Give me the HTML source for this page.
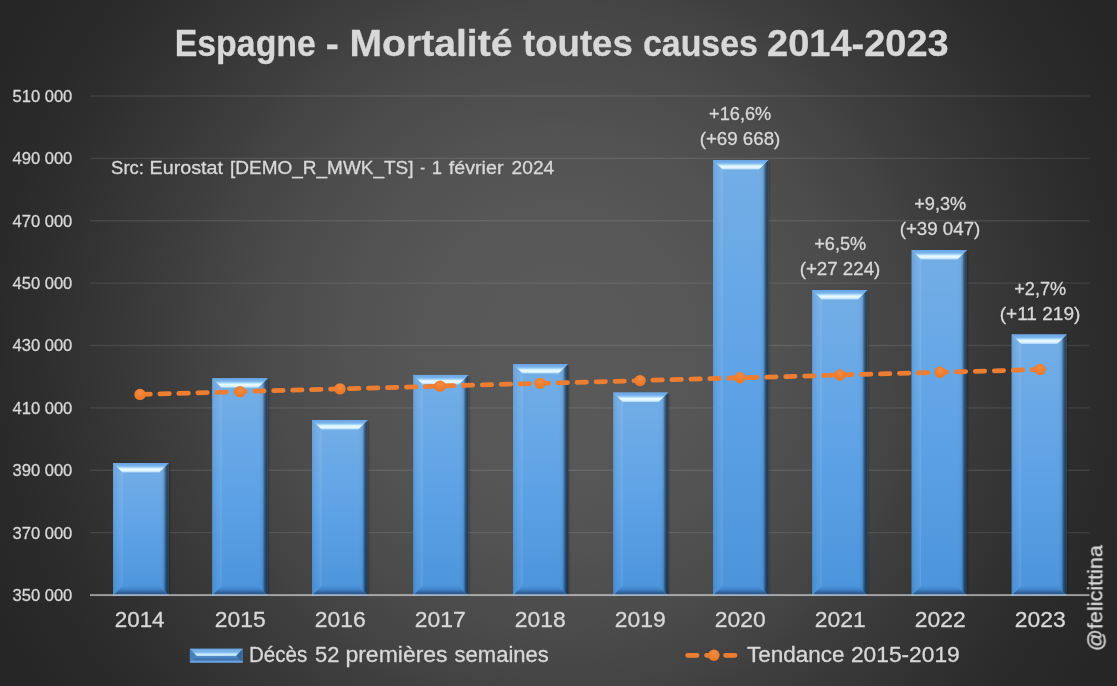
<!DOCTYPE html>
<html><head><meta charset="utf-8"><title>Espagne - Mortalité toutes causes 2014-2023</title>
<style>html,body{margin:0;padding:0;background:#262626;overflow:hidden}body{width:1117px;height:686px}svg{display:block}text{font-family:"Liberation Sans", sans-serif;fill:#d9d9d9;white-space:pre;stroke:#d9d9d9;stroke-width:0.3px;stroke-linejoin:round}</style></head><body>
<svg width="1117" height="686" viewBox="0 0 1117 686">
<defs>
<radialGradient id="bg" gradientUnits="userSpaceOnUse" cx="558.5" cy="343" r="655.5"><stop offset="0.0000" stop-color="rgb(89.00,89.00,89.00)"/><stop offset="0.0250" stop-color="rgb(88.99,88.99,88.99)"/><stop offset="0.0500" stop-color="rgb(88.93,88.93,88.93)"/><stop offset="0.0750" stop-color="rgb(88.81,88.81,88.81)"/><stop offset="0.1000" stop-color="rgb(88.60,88.60,88.60)"/><stop offset="0.1250" stop-color="rgb(88.31,88.31,88.31)"/><stop offset="0.1500" stop-color="rgb(87.91,87.91,87.91)"/><stop offset="0.1750" stop-color="rgb(87.40,87.40,87.40)"/><stop offset="0.2000" stop-color="rgb(86.78,86.78,86.78)"/><stop offset="0.2250" stop-color="rgb(86.04,86.04,86.04)"/><stop offset="0.2500" stop-color="rgb(85.17,85.17,85.17)"/><stop offset="0.2750" stop-color="rgb(84.17,84.17,84.17)"/><stop offset="0.3000" stop-color="rgb(83.04,83.04,83.04)"/><stop offset="0.3250" stop-color="rgb(81.79,81.79,81.79)"/><stop offset="0.3500" stop-color="rgb(80.41,80.41,80.41)"/><stop offset="0.3750" stop-color="rgb(78.91,78.91,78.91)"/><stop offset="0.4000" stop-color="rgb(77.29,77.29,77.29)"/><stop offset="0.4250" stop-color="rgb(75.56,75.56,75.56)"/><stop offset="0.4500" stop-color="rgb(73.73,73.73,73.73)"/><stop offset="0.4750" stop-color="rgb(71.81,71.81,71.81)"/><stop offset="0.5000" stop-color="rgb(69.81,69.81,69.81)"/><stop offset="0.5250" stop-color="rgb(67.74,67.74,67.74)"/><stop offset="0.5500" stop-color="rgb(65.61,65.61,65.61)"/><stop offset="0.5750" stop-color="rgb(63.44,63.44,63.44)"/><stop offset="0.6000" stop-color="rgb(61.25,61.25,61.25)"/><stop offset="0.6250" stop-color="rgb(59.06,59.06,59.06)"/><stop offset="0.6500" stop-color="rgb(56.88,56.88,56.88)"/><stop offset="0.6750" stop-color="rgb(54.72,54.72,54.72)"/><stop offset="0.7000" stop-color="rgb(52.62,52.62,52.62)"/><stop offset="0.7250" stop-color="rgb(50.59,50.59,50.59)"/><stop offset="0.7500" stop-color="rgb(48.64,48.64,48.64)"/><stop offset="0.7750" stop-color="rgb(46.81,46.81,46.81)"/><stop offset="0.8000" stop-color="rgb(45.10,45.10,45.10)"/><stop offset="0.8250" stop-color="rgb(43.54,43.54,43.54)"/><stop offset="0.8500" stop-color="rgb(42.14,42.14,42.14)"/><stop offset="0.8750" stop-color="rgb(40.92,40.92,40.92)"/><stop offset="0.9000" stop-color="rgb(39.89,39.89,39.89)"/><stop offset="0.9250" stop-color="rgb(39.08,39.08,39.08)"/><stop offset="0.9500" stop-color="rgb(38.48,38.48,38.48)"/><stop offset="0.9750" stop-color="rgb(38.12,38.12,38.12)"/><stop offset="1.0000" stop-color="rgb(38.00,38.00,38.00)"/></radialGradient>
<linearGradient id="face" x1="0" y1="0" x2="0" y2="1"><stop offset="0" stop-color="#74aee6"/><stop offset="0.5" stop-color="#5fa3e6"/><stop offset="1" stop-color="#4b94db"/></linearGradient>
<linearGradient id="bvT" x1="0" y1="0" x2="0" y2="1"><stop offset="0" stop-color="#6aa5e3"/><stop offset="0.3" stop-color="#78b2ea"/><stop offset="0.48" stop-color="#a8d8fb"/><stop offset="0.62" stop-color="#e8faff"/><stop offset="0.82" stop-color="#e2f5ff"/><stop offset="1" stop-color="#a4d4fa"/></linearGradient>
<linearGradient id="bvB" x1="0" y1="0" x2="0" y2="1"><stop offset="0" stop-color="#4b92d8"/><stop offset="0.35" stop-color="#4384c8"/><stop offset="0.7" stop-color="#2d6098"/><stop offset="1" stop-color="#244c78"/></linearGradient>
<linearGradient id="bvL" x1="0" y1="0" x2="1" y2="0"><stop offset="0" stop-color="#000" stop-opacity="0.08"/><stop offset="0.75" stop-color="#fff" stop-opacity="0.03"/><stop offset="1" stop-color="#fff" stop-opacity="0.12"/></linearGradient>
<linearGradient id="bvR" x1="0" y1="0" x2="1" y2="0"><stop offset="0" stop-color="#000" stop-opacity="0"/><stop offset="0.35" stop-color="#000" stop-opacity="0.03"/><stop offset="0.5" stop-color="#000" stop-opacity="0.13"/><stop offset="0.66" stop-color="#000" stop-opacity="0.42"/><stop offset="0.82" stop-color="#000" stop-opacity="0.58"/><stop offset="1" stop-color="#000" stop-opacity="0.66"/></linearGradient>
<linearGradient id="lgT" x1="0" y1="0" x2="0" y2="1"><stop offset="0" stop-color="#5c99d8"/><stop offset="0.5" stop-color="#a9dbff"/><stop offset="1" stop-color="#e6f8ff"/></linearGradient>
<filter id="sh" x="-20%" y="-5%" width="140%" height="110%"><feGaussianBlur stdDeviation="0.9"/></filter>
<radialGradient id="mk" cx="0.5" cy="0.32" r="0.75"><stop offset="0" stop-color="#f28c44"/><stop offset="0.55" stop-color="#ee7d2e"/><stop offset="1" stop-color="#ea7624"/></radialGradient>
</defs>
<rect x="0" y="0" width="1117" height="686" fill="url(#bg)"/>
<line x1="90.0" y1="532.62" x2="1089.5" y2="532.62" stroke="#f2f2f2" stroke-opacity="0.10" stroke-width="1.3"/>
<line x1="90.0" y1="470.25" x2="1089.5" y2="470.25" stroke="#f2f2f2" stroke-opacity="0.10" stroke-width="1.3"/>
<line x1="90.0" y1="407.88" x2="1089.5" y2="407.88" stroke="#f2f2f2" stroke-opacity="0.10" stroke-width="1.3"/>
<line x1="90.0" y1="345.50" x2="1089.5" y2="345.50" stroke="#f2f2f2" stroke-opacity="0.10" stroke-width="1.3"/>
<line x1="90.0" y1="283.12" x2="1089.5" y2="283.12" stroke="#f2f2f2" stroke-opacity="0.10" stroke-width="1.3"/>
<line x1="90.0" y1="220.75" x2="1089.5" y2="220.75" stroke="#f2f2f2" stroke-opacity="0.10" stroke-width="1.3"/>
<line x1="90.0" y1="158.38" x2="1089.5" y2="158.38" stroke="#f2f2f2" stroke-opacity="0.10" stroke-width="1.3"/>
<line x1="90.0" y1="96.00" x2="1089.5" y2="96.00" stroke="#f2f2f2" stroke-opacity="0.10" stroke-width="1.3"/>
<rect x="116.0" y="464.5" width="53.5" height="131.1" fill="#000" fill-opacity="0.38" filter="url(#sh)"/>
<rect x="113.0" y="463.0" width="55.7" height="132.6" fill="url(#face)"/>
<polygon points="113.0,463.0 122.5,472.5 122.5,586.1 113.0,595.6" fill="url(#bvL)"/>
<polygon points="168.7,463.0 159.2,472.5 159.2,586.1 168.7,595.6" fill="url(#bvR)"/>
<polygon points="113.0,463.0 168.7,463.0 159.2,472.5 122.5,472.5" fill="url(#bvT)"/>
<polygon points="113.0,595.6 168.7,595.6 159.2,586.1 122.5,586.1" fill="url(#bvB)"/>
<rect x="215.1" y="379.8" width="53.4" height="215.8" fill="#000" fill-opacity="0.38" filter="url(#sh)"/>
<rect x="212.1" y="378.3" width="55.6" height="217.3" fill="url(#face)"/>
<polygon points="212.1,378.3 221.6,387.8 221.6,586.1 212.1,595.6" fill="url(#bvL)"/>
<polygon points="267.7,378.3 258.2,387.8 258.2,586.1 267.7,595.6" fill="url(#bvR)"/>
<polygon points="212.1,378.3 267.7,378.3 258.2,387.8 221.6,387.8" fill="url(#bvT)"/>
<polygon points="212.1,595.6 267.7,595.6 258.2,586.1 221.6,586.1" fill="url(#bvB)"/>
<rect x="315.0" y="421.5" width="53.5" height="174.1" fill="#000" fill-opacity="0.38" filter="url(#sh)"/>
<rect x="312.0" y="420.0" width="55.7" height="175.6" fill="url(#face)"/>
<polygon points="312.0,420.0 321.5,429.5 321.5,586.1 312.0,595.6" fill="url(#bvL)"/>
<polygon points="367.7,420.0 358.2,429.5 358.2,586.1 367.7,595.6" fill="url(#bvR)"/>
<polygon points="312.0,420.0 367.7,420.0 358.2,429.5 321.5,429.5" fill="url(#bvT)"/>
<polygon points="312.0,595.6 367.7,595.6 358.2,586.1 321.5,586.1" fill="url(#bvB)"/>
<rect x="416.2" y="376.4" width="53.0" height="219.2" fill="#000" fill-opacity="0.38" filter="url(#sh)"/>
<rect x="413.2" y="374.9" width="55.2" height="220.7" fill="url(#face)"/>
<polygon points="413.2,374.9 422.7,384.4 422.7,586.1 413.2,595.6" fill="url(#bvL)"/>
<polygon points="468.4,374.9 458.9,384.4 458.9,586.1 468.4,595.6" fill="url(#bvR)"/>
<polygon points="413.2,374.9 468.4,374.9 458.9,384.4 422.7,384.4" fill="url(#bvT)"/>
<polygon points="413.2,595.6 468.4,595.6 458.9,586.1 422.7,586.1" fill="url(#bvB)"/>
<rect x="516.0" y="365.6" width="52.8" height="230.0" fill="#000" fill-opacity="0.38" filter="url(#sh)"/>
<rect x="513.0" y="364.1" width="55.0" height="231.5" fill="url(#face)"/>
<polygon points="513.0,364.1 522.5,373.6 522.5,586.1 513.0,595.6" fill="url(#bvL)"/>
<polygon points="568.0,364.1 558.5,373.6 558.5,586.1 568.0,595.6" fill="url(#bvR)"/>
<polygon points="513.0,364.1 568.0,364.1 558.5,373.6 522.5,373.6" fill="url(#bvT)"/>
<polygon points="513.0,595.6 568.0,595.6 558.5,586.1 522.5,586.1" fill="url(#bvB)"/>
<rect x="616.2" y="394.0" width="52.7" height="201.6" fill="#000" fill-opacity="0.38" filter="url(#sh)"/>
<rect x="613.2" y="392.5" width="54.9" height="203.1" fill="url(#face)"/>
<polygon points="613.2,392.5 622.7,402.0 622.7,586.1 613.2,595.6" fill="url(#bvL)"/>
<polygon points="668.1,392.5 658.6,402.0 658.6,586.1 668.1,595.6" fill="url(#bvR)"/>
<polygon points="613.2,392.5 668.1,392.5 658.6,402.0 622.7,402.0" fill="url(#bvT)"/>
<polygon points="613.2,595.6 668.1,595.6 658.6,586.1 622.7,586.1" fill="url(#bvB)"/>
<rect x="716.0" y="161.6" width="53.1" height="434.0" fill="#000" fill-opacity="0.38" filter="url(#sh)"/>
<rect x="713.0" y="160.1" width="55.3" height="435.5" fill="url(#face)"/>
<polygon points="713.0,160.1 722.5,169.6 722.5,586.1 713.0,595.6" fill="url(#bvL)"/>
<polygon points="768.3,160.1 758.8,169.6 758.8,586.1 768.3,595.6" fill="url(#bvR)"/>
<polygon points="713.0,160.1 768.3,160.1 758.8,169.6 722.5,169.6" fill="url(#bvT)"/>
<polygon points="713.0,595.6 768.3,595.6 758.8,586.1 722.5,586.1" fill="url(#bvB)"/>
<rect x="815.1" y="291.5" width="53.0" height="304.1" fill="#000" fill-opacity="0.38" filter="url(#sh)"/>
<rect x="812.1" y="290.0" width="55.2" height="305.6" fill="url(#face)"/>
<polygon points="812.1,290.0 821.6,299.5 821.6,586.1 812.1,595.6" fill="url(#bvL)"/>
<polygon points="867.3,290.0 857.8,299.5 857.8,586.1 867.3,595.6" fill="url(#bvR)"/>
<polygon points="812.1,290.0 867.3,290.0 857.8,299.5 821.6,299.5" fill="url(#bvT)"/>
<polygon points="812.1,595.6 867.3,595.6 857.8,586.1 821.6,586.1" fill="url(#bvB)"/>
<rect x="914.5" y="251.5" width="53.2" height="344.1" fill="#000" fill-opacity="0.38" filter="url(#sh)"/>
<rect x="911.5" y="250.0" width="55.4" height="345.6" fill="url(#face)"/>
<polygon points="911.5,250.0 921.0,259.5 921.0,586.1 911.5,595.6" fill="url(#bvL)"/>
<polygon points="966.9,250.0 957.4,259.5 957.4,586.1 966.9,595.6" fill="url(#bvR)"/>
<polygon points="911.5,250.0 966.9,250.0 957.4,259.5 921.0,259.5" fill="url(#bvT)"/>
<polygon points="911.5,595.6 966.9,595.6 957.4,586.1 921.0,586.1" fill="url(#bvB)"/>
<rect x="1014.6" y="335.9" width="52.8" height="259.7" fill="#000" fill-opacity="0.38" filter="url(#sh)"/>
<rect x="1011.6" y="334.4" width="55.0" height="261.2" fill="url(#face)"/>
<polygon points="1011.6,334.4 1021.1,343.9 1021.1,586.1 1011.6,595.6" fill="url(#bvL)"/>
<polygon points="1066.6,334.4 1057.1,343.9 1057.1,586.1 1066.6,595.6" fill="url(#bvR)"/>
<polygon points="1011.6,334.4 1066.6,334.4 1057.1,343.9 1021.1,343.9" fill="url(#bvT)"/>
<polygon points="1011.6,595.6 1066.6,595.6 1057.1,586.1 1021.1,586.1" fill="url(#bvB)"/>
<rect x="90.0" y="594.1" width="999.5" height="2.0" fill="#f2f2f2" fill-opacity="0.56"/>
<polyline points="140.0,394.41 240.0,391.64 340.0,388.88 440.0,386.11 540.0,383.34 640.0,380.58 740.0,377.81 840.0,375.04 940.0,372.27 1040.0,369.51" fill="none" stroke="#ed7d31" stroke-width="4.74" stroke-linecap="round" stroke-dasharray="9.48 9.49" stroke-dashoffset="-0.9"/>
<circle cx="140.0" cy="394.41" r="5.7" fill="url(#mk)"/>
<circle cx="240.0" cy="391.64" r="5.7" fill="url(#mk)"/>
<circle cx="340.0" cy="388.88" r="5.7" fill="url(#mk)"/>
<circle cx="440.0" cy="386.11" r="5.7" fill="url(#mk)"/>
<circle cx="540.0" cy="383.34" r="5.7" fill="url(#mk)"/>
<circle cx="640.0" cy="380.58" r="5.7" fill="url(#mk)"/>
<circle cx="740.0" cy="377.81" r="5.7" fill="url(#mk)"/>
<circle cx="840.0" cy="375.04" r="5.7" fill="url(#mk)"/>
<circle cx="940.0" cy="372.27" r="5.7" fill="url(#mk)"/>
<circle cx="1040.0" cy="369.51" r="5.7" fill="url(#mk)"/>
<linearGradient id="swT" x1="0" y1="0" x2="0" y2="1"><stop offset="0" stop-color="#6ea8e4"/><stop offset="0.45" stop-color="#7db5ea"/><stop offset="0.78" stop-color="#c4eaff"/><stop offset="1" stop-color="#def6ff"/></linearGradient>
<linearGradient id="swM" x1="0" y1="0" x2="0" y2="1"><stop offset="0" stop-color="#5591d0"/><stop offset="1" stop-color="#386aa2"/></linearGradient>
<rect x="189.9" y="648.8" width="52.9" height="14.0" fill="#67a3e0"/>
<polygon points="196.4,655.8 236.3,655.8 239.8,660.4 192.9,660.4" fill="url(#swM)"/>
<polygon points="189.9,648.8 242.8,648.8 236.3,655.8 196.4,655.8" fill="url(#swT)"/>
<polygon points="189.9,648.8 196.4,655.8 192.9,660.4 189.9,660.9" fill="#4a80b8"/>
<polygon points="242.8,648.8 236.3,655.8 239.8,660.4 242.8,660.9" fill="#396797"/>
<line x1="687.6" y1="655.3" x2="735.6" y2="655.3" stroke="#ed7d31" stroke-width="4.74" stroke-linecap="round" stroke-dasharray="9.48 9.49"/>
<circle cx="713.9" cy="655.3" r="5.7" fill="url(#mk)"/>
<g style="opacity:0.999">
<text transform="translate(174.68,56.20) scale(0.9600,1.030)" font-size="35.3" font-weight="bold">Espagne</text>
<text transform="translate(325.79,56.20) scale(1.1100,1.030)" font-size="35.3" font-weight="bold">-</text>
<text transform="translate(349.38,56.20) scale(1.1097,1.030)" font-size="35.3" font-weight="bold">Mortalité</text>
<text transform="translate(523.00,56.20) scale(1.0374,1.030)" font-size="35.3" font-weight="bold">toutes</text>
<text transform="translate(642.94,56.20) scale(0.9603,1.030)" font-size="35.3" font-weight="bold">causes</text>
<text transform="translate(767.02,56.20) scale(1.0762,1.030)" font-size="35.3" font-weight="bold">2014-2023</text>
<text transform="translate(111.10,174.40) scale(1.0497,1.000)" font-size="17.6">Src:</text>
<text transform="translate(149.58,174.40) scale(1.1202,1.000)" font-size="17.6">Eurostat</text>
<text transform="translate(230.02,174.40) scale(1.0796,1.000)" font-size="17.6">[DEMO_R_MWK_TS]</text>
<text transform="translate(420.20,174.40) scale(0.8333,1.000)" font-size="17.6">-</text>
<text transform="translate(431.65,174.40) scale(1.0500,1.000)" font-size="17.6">1</text>
<text transform="translate(448.80,174.40) scale(1.1179,1.000)" font-size="17.6">février</text>
<text transform="translate(511.60,174.40) scale(1.0901,1.000)" font-size="17.6">2024</text>
<text transform="translate(12.50,600.90) scale(0.9974,1.000)" font-size="16.6">350 000</text>
<text transform="translate(12.50,538.52) scale(0.9974,1.000)" font-size="16.6">370 000</text>
<text transform="translate(12.50,476.15) scale(0.9974,1.000)" font-size="16.6">390 000</text>
<text transform="translate(12.50,413.77) scale(0.9974,1.000)" font-size="16.6">410 000</text>
<text transform="translate(12.50,351.40) scale(0.9974,1.000)" font-size="16.6">430 000</text>
<text transform="translate(12.50,289.02) scale(0.9974,1.000)" font-size="16.6">450 000</text>
<text transform="translate(12.50,226.65) scale(0.9974,1.000)" font-size="16.6">470 000</text>
<text transform="translate(12.50,164.28) scale(0.9974,1.000)" font-size="16.6">490 000</text>
<text transform="translate(12.50,101.90) scale(0.9974,1.000)" font-size="16.6">510 000</text>
<text transform="translate(114.74,626.80) scale(1.0572,1.000)" font-size="21.2">2014</text>
<text transform="translate(214.72,626.80) scale(1.0805,1.000)" font-size="21.2">2015</text>
<text transform="translate(314.72,626.80) scale(1.0805,1.000)" font-size="21.2">2016</text>
<text transform="translate(414.72,626.80) scale(1.0805,1.000)" font-size="21.2">2017</text>
<text transform="translate(514.72,626.80) scale(1.0805,1.000)" font-size="21.2">2018</text>
<text transform="translate(614.72,626.80) scale(1.0805,1.000)" font-size="21.2">2019</text>
<text transform="translate(714.72,626.80) scale(1.0805,1.000)" font-size="21.2">2020</text>
<text transform="translate(814.72,626.80) scale(1.0805,1.000)" font-size="21.2">2021</text>
<text transform="translate(914.72,626.80) scale(1.0805,1.000)" font-size="21.2">2022</text>
<text transform="translate(1014.72,626.80) scale(1.0805,1.000)" font-size="21.2">2023</text>
<text transform="translate(709.10,120.30) scale(0.9943,1.000)" font-size="18.3">+16,6%</text>
<text transform="translate(699.66,145.30) scale(1.0351,1.000)" font-size="18.1">(+69 668)</text>
<text transform="translate(814.20,250.20) scale(0.9925,1.000)" font-size="18.3">+6,5%</text>
<text transform="translate(799.66,275.20) scale(1.0351,1.000)" font-size="18.1">(+27 224)</text>
<text transform="translate(914.20,210.20) scale(0.9925,1.000)" font-size="18.3">+9,3%</text>
<text transform="translate(899.66,235.20) scale(1.0351,1.000)" font-size="18.1">(+39 047)</text>
<text transform="translate(1014.20,294.60) scale(0.9925,1.000)" font-size="18.3">+2,7%</text>
<text transform="translate(999.65,319.60) scale(1.0538,1.000)" font-size="18.1">(+11 219)</text>
<text transform="translate(248.93,662.40) scale(0.9733,1.000)" font-size="21.2">Décès</text>
<text transform="translate(315.10,662.40) scale(1.0314,1.000)" font-size="21.2">52</text>
<text transform="translate(345.42,662.40) scale(1.0842,1.000)" font-size="21.2">premières</text>
<text transform="translate(454.60,662.40) scale(1.0379,1.000)" font-size="21.2">semaines</text>
<text transform="translate(747.00,662.40) scale(1.0625,1.000)" font-size="21.2">Tendance</text>
<text transform="translate(850.93,662.40) scale(1.0739,1.000)" font-size="21.2">2015-2019</text>
<text transform="translate(1102.3,651.01) rotate(-90) scale(1.1140,1)" font-size="19.4">@felicittina</text>
</g>
</svg></body></html>
